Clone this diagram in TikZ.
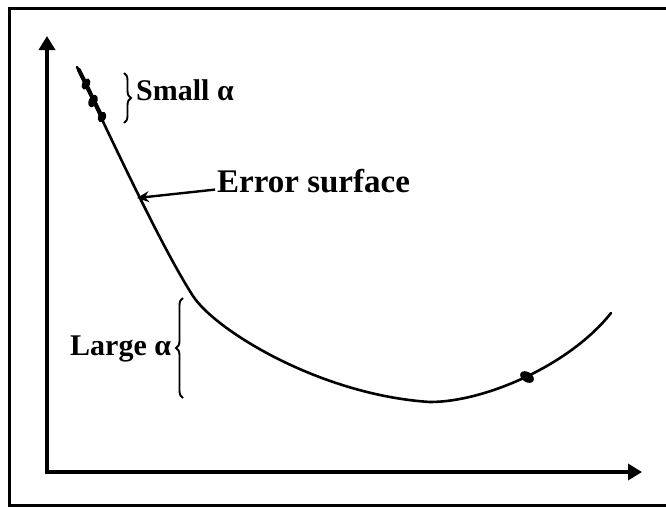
\documentclass[tikz,border=0pt]{standalone}
\usepackage{fontspec}
\setmainfont{Liberation Serif}
\usetikzlibrary{arrows.meta,decorations.pathreplacing}

\tikzset{
  axis/.style={line width=4.6pt,-{Triangle[length=14pt,width=16pt]}},
  curve/.style={line width=2.6pt,line cap=round},
  lbl/.style={inner sep=0pt,anchor=base west,font=\bfseries\fontsize{30}{34}\selectfont},
  brc/.style={decorate,decoration={brace,amplitude=7pt},line width=1.9pt},
}

\begin{document}
\begin{tikzpicture}[x=1pt,y=-1pt]
\useasboundingbox (0,0) rectangle (666,507);
%frame
\draw[line width=3pt] (9,8) rectangle (680,505);

%axes
\coordinate (origin) at (47,472);
\coordinate (ytop) at (47,36);
\coordinate (xend) at (642,472);
\draw[axis] ([yshift=-2.3pt]origin) -- (ytop);
\draw[axis] ([xshift=-2.3pt]origin) -- (xend);

%error curve
\draw[curve] (77,67) .. controls (105,125) and (160,245) .. (193,296)
  .. controls (215,330) and (320,395) .. (430,402)
  .. controls (485,402) and (570,365) .. (611,313);

%small steps
\draw[line width=4pt,line cap=round] (79,70) -- (103,119);
\fill (86,84) ellipse[x radius=3.8pt,y radius=6pt,rotate=-26];
\fill (93,101) ellipse[x radius=4.2pt,y radius=6.5pt,rotate=-26];
\fill (102,117) ellipse[x radius=4pt,y radius=5.5pt,rotate=-26];

%large step
\fill (527,377) ellipse[x radius=7.5pt,y radius=5pt,rotate=-33];

%braces
\coordinate (s1) at (124,73);
\coordinate (s2) at (124,123);
\coordinate (l1) at (183,398);
\coordinate (l2) at (183,298);
\draw[brc] (s1) -- (s2);
\draw[brc] (l1) -- (l2);

%text
\node[lbl] (small) at (136,100) {Small α};
\node[lbl] (large) at (70,355) {Large α};
\node[lbl,font=\bfseries\fontsize{33}{37}\selectfont] (err) at (217,192) {Error surface};

%pointer
\coordinate (hit) at (137,198);
\draw[line width=2.4pt,-{Stealth[length=12pt,width=11pt]}] ([xshift=-2pt,yshift=-9pt]err.west) -- (hit);
\end{tikzpicture}
\end{document}
